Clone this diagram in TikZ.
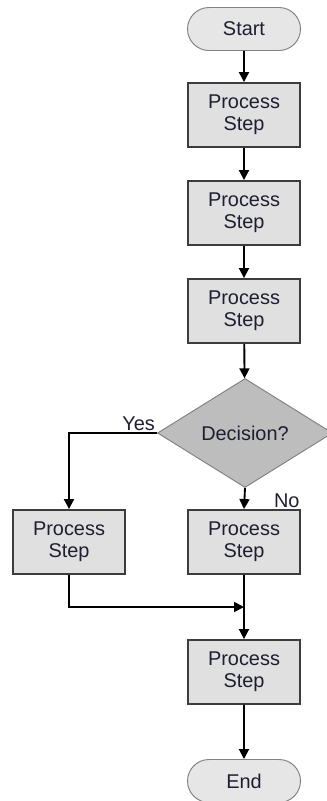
\documentclass[tikz,border=0pt]{standalone}
\usepackage{fontspec}
\setmainfont{Liberation Sans}
\usetikzlibrary{shapes.geometric,shapes.misc,arrows.meta}
\definecolor{boxfill}{HTML}{E0E0E0}
\definecolor{termfill}{HTML}{E6E6E6}
\definecolor{decfill}{HTML}{BDBDBD}
\definecolor{edgegray}{HTML}{3C3C3C}
\definecolor{textink}{HTML}{1E1E32}
\begin{document}
\begin{tikzpicture}[
x=0.03cm,y=-0.03cm,
every node/.style={font=\fontsize{17}{19}\selectfont,text=textink},
process/.style={draw=edgegray,line width=1.6pt,fill=boxfill,minimum width=3.36cm,minimum height=1.92cm,align=center,inner sep=0pt},
terminal/.style={rounded rectangle,draw=gray,line width=0.8pt,fill=termfill,minimum width=3.39cm,minimum height=1.29cm,inner sep=0pt},
decision/.style={diamond,draw=gray,line width=0.8pt,fill=decfill,aspect=1.6,minimum width=5.25cm,minimum height=3.27cm,inner sep=0pt},
flow/.style={line width=1.6pt,-{Triangle[width=0.3cm,length=0.3cm]}}
]
\useasboundingbox (0,0) rectangle (326,801);
\node[terminal] (start) at (244,29) {Start};
\node[process] (p1) at (244,115) {Process\\Step};
\node[process] (p2) at (244,213) {Process\\Step};
\node[process] (p3) at (244,311) {Process\\Step};
\node[decision] (dec) at (245,433) {Decision?};
\node[process] (pyes) at (69,542) {Process\\Step};
\node[process] (pno) at (244,542) {Process\\Step};
\node[process] (plast) at (244,672) {Process\\Step};
\node[terminal] (end) at (244,781) {End};
\coordinate (join) at (244,607);

\draw[flow] (start) -- (p1);
\draw[flow] (p1) -- (p2);
\draw[flow] (p2) -- (p3);
\draw[flow] (p3) -- (dec);
\draw[flow] (dec.west) node[above left,inner sep=1pt] (yes) {Yes} -| (pyes.north);
\draw[flow] (dec.south) -- (pno.north);
\node[anchor=south east,inner sep=1pt] (no) at (pno.north east) {No};
\draw[flow] (pyes.south) |- (join);
\draw[flow] (pno) -- (plast);
\draw[flow] (plast) -- (end);
\end{tikzpicture}
\end{document}
